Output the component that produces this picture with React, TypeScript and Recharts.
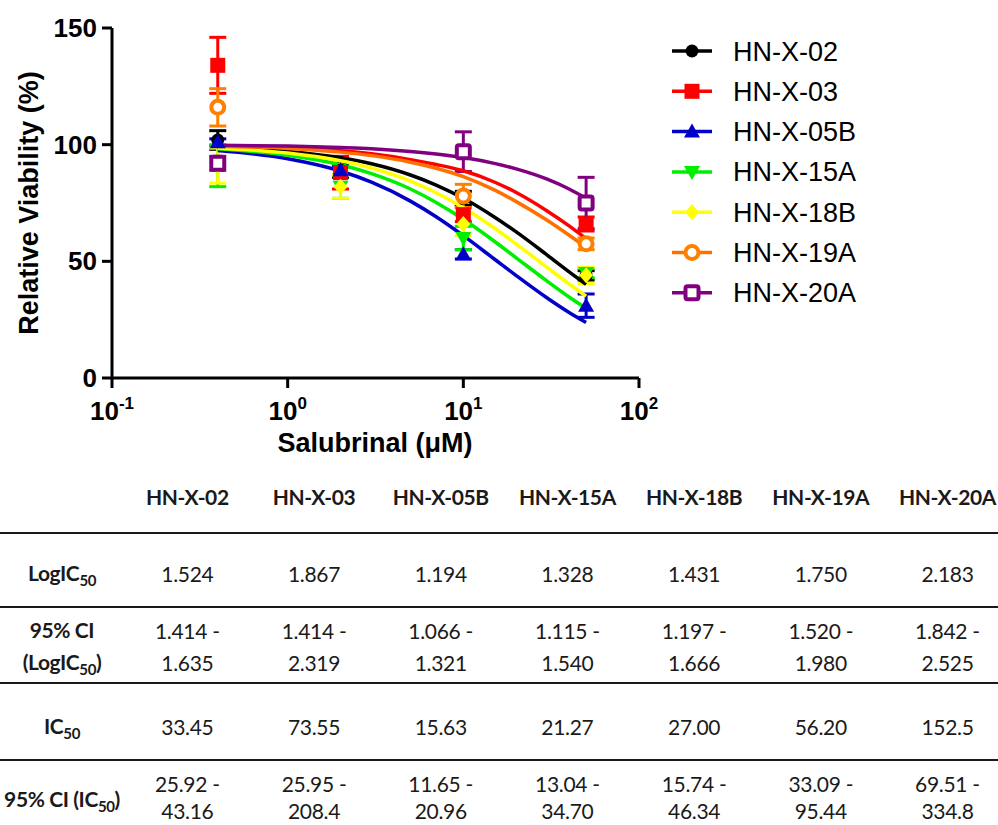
import { ComposedChart, Line, Scatter, ErrorBar, XAxis, YAxis, Legend } from "recharts";

const cellLines = ["HN-X-02", "HN-X-03", "HN-X-05B", "HN-X-15A", "HN-X-18B", "HN-X-19A", "HN-X-20A"];

// measured points (dose in µM, mean viability %, error)
const doses = [0.4, 2, 10, 50];
const dosesNo2 = [0.4, 10, 50];
const mean02 = [102, 89, 77, 44];
const err02 = [4, 3, 3, 2];
const mean03 = [134, 88, 70, 66];
const err03 = [12, 7, 3, 3];
const mean05B = [101, 89, 53, 31];
const err05B = [1.5, 2, 2, 5];
const mean15A = [91, 82, 60, 45];
const err15A = [9, 5, 5, 2];
const mean18B = [91, 82, 66, 44];
const err18B = [7.5, 5, 5, 3.5];
const mean19A = [116, 78, 57.5];
const err19A = [8, 5, 2.5];
const mean20A = [92, 97, 75];
const err20A = [3, 8.5, 11];

// fitted curves
const fitDoses = [0.4, 1, 2, 3, 5, 7, 10, 15, 20, 30, 40, 50];
const fit02 = [98.8, 97.1, 94.4, 91.8, 87.0, 82.7, 77.0, 69.0, 62.6, 52.7, 45.5, 40.1];
const fit03 = [99.5, 98.7, 97.4, 96.1, 93.6, 91.5, 88.8, 84.0, 79.5, 71.6, 65.2, 59.7];
const fit05B = [97.5, 94.0, 88.7, 83.9, 75.8, 69.1, 61.0, 51.0, 43.9, 34.3, 28.1, 23.8];
const fit15A = [98.2, 95.5, 91.4, 87.6, 81.0, 75.2, 68.0, 58.6, 51.5, 41.5, 34.7, 29.8];
const fit18B = [98.5, 96.4, 93.1, 90.0, 84.4, 79.4, 73.0, 64.3, 57.4, 47.4, 40.3, 35.1];
const fit19A = [99.3, 98.4, 96.8, 95.3, 92.5, 89.9, 86.3, 80.6, 75.6, 67.6, 61.2, 56.0];
const fit20A = [99.7, 99.4, 98.8, 98.3, 97.1, 96.0, 94.5, 92.0, 89.6, 85.2, 81.0, 77.0];

const xTicks = [0.1, 1, 10, 100];
const yTicks = [0, 50, 100, 150];

// table values
const logIC50 = ["1.524", "1.867", "1.194", "1.328", "1.431", "1.750", "2.183"];
const ciLogIC50 = [["1.414", "1.635"], ["1.414", "2.319"], ["1.066", "1.321"], ["1.115", "1.540"], ["1.197", "1.666"], ["1.520", "1.980"], ["1.842", "2.525"]];
const ic50 = ["33.45", "73.55", "15.63", "21.27", "27.00", "56.20", "152.5"];
const ciIC50 = [["25.92", "43.16"], ["25.95", "208.4"], ["11.65", "20.96"], ["13.04", "34.70"], ["15.74", "46.34"], ["33.09", "95.44"], ["69.51", "334.8"]];

const styles = [
  { color: "#000000", line: "#000000", marker: "circle" },
  { color: "#ff0000", line: "#ff0000", marker: "square" },
  { color: "#0000c8", line: "#0000c8", marker: "triangle" },
  { color: "#00ee00", line: "#00ee00", marker: "triangleDown" },
  { color: "#ffff00", line: "#ffff00", marker: "diamond" },
  { color: "#ff8000", line: "#ff7000", marker: "openCircle" },
  { color: "#800080", line: "#800080", marker: "openSquare" },
];

const points = [
  [doses, mean02, err02],
  [doses, mean03, err03],
  [doses, mean05B, err05B],
  [doses, mean15A, err15A],
  [doses, mean18B, err18B],
  [dosesNo2, mean19A, err19A],
  [dosesNo2, mean20A, err20A],
] as const;
const fits = [fit02, fit03, fit05B, fit15A, fit18B, fit19A, fit20A];

const Marker = ({ cx, cy, kind, color }: any) => {
  switch (kind) {
    case "circle":
      return <circle cx={cx} cy={cy} r={6.5} fill={color} />;
    case "square":
      return <rect x={cx - 7.5} y={cy - 7.5} width={15} height={15} fill={color} />;
    case "triangle":
      return <path d={`M${cx},${cy - 8} L${cx + 8},${cy + 6} L${cx - 8},${cy + 6} Z`} fill={color} />;
    case "triangleDown":
      return <path d={`M${cx},${cy + 8} L${cx + 8},${cy - 6} L${cx - 8},${cy - 6} Z`} fill={color} />;
    case "diamond":
      return <path d={`M${cx},${cy - 8} L${cx + 7},${cy} L${cx},${cy + 8} L${cx - 7},${cy} Z`} fill={color} />;
    case "openCircle":
      return <circle cx={cx} cy={cy} r={6.5} fill="#fff" stroke={color} strokeWidth={4} />;
    default:
      return <rect x={cx - 6.5} y={cy - 6.5} width={13} height={13} rx={2} fill="#fff" stroke={color} strokeWidth={4} />;
  }
};

const XTick = ({ x, y, payload }: any) => (
  <text x={x} y={y + 30} textAnchor="middle" fontSize={26} fontWeight="bold" fill="#000">
    <tspan>10</tspan>
    <tspan dy={-11} fontSize={17}>{Math.round(Math.log10(payload.value))}</tspan>
  </text>
);

const YTick = ({ x, y, payload }: any) => (
  <text x={x} y={y} dy={9} textAnchor="end" fontSize={26} fontWeight="bold" fill="#000">
    {payload.value}
  </text>
);

const LegendBox = () => (
  <svg width={300} height={290}>
    {cellLines.map((name, i) => {
      const cy = 17 + i * 40.3;
      return (
        <g key={name}>
          <line x1={12} x2={52} y1={cy} y2={cy} stroke={styles[i].line} strokeWidth={3.5} />
          <Marker cx={32} cy={cy} kind={styles[i].marker} color={styles[i].color} />
          <text x={73} y={cy + 9.5} fontSize={27} fill="#000">{name}</text>
        </g>
      );
    })}
  </svg>
);

const Sub = ({ children }: any) => (
  <span style={{ fontSize: 15, position: "relative", top: 5 }}>{children}</span>
);

const rowStyle = (top: number, height: number, pad: number, lh: number, border = true): any => ({
  position: "absolute",
  top,
  left: 0,
  height,
  width: 1011,
  boxSizing: "border-box",
  borderBottom: border ? "2.5px solid #1a1a1a" : "none",
  display: "grid",
  gridTemplateColumns: "124px repeat(7, 126.7px)",
  alignItems: "center",
  lineHeight: lh + "px",
  paddingTop: pad > 0 ? pad : 0,
  paddingBottom: pad < 0 ? -pad : 0,
});

const cell: any = { textAlign: "center", whiteSpace: "nowrap", letterSpacing: -0.3 };
const head: any = { ...cell, fontWeight: "bold", letterSpacing: -0.4 };

const TwoLines = ({ a, b }: any) => (
  <div style={cell}>
    <div style={{ lineHeight: "28px" }}>{a}</div>
    <div style={{ lineHeight: "26px", paddingTop: 0 }}>{b}</div>
  </div>
);

export default function App() {
  return (
    <div style={{ position: "absolute", left: 0, top: 0, width: 998, height: 825, overflow: "hidden", background: "#fff", fontFamily: "'Liberation Sans', Arial, sans-serif" }}>
      <ComposedChart width={998} height={470} margin={{ top: 28, right: 359, bottom: 12, left: 12 }}>
        <XAxis
          dataKey="x"
          type="number"
          scale="log"
          domain={[0.1, 100]}
          ticks={xTicks}
          allowDataOverflow
          stroke="#000"
          strokeWidth={3}
          tickSize={10}
          height={80}
          tick={<XTick />}
          label={{
            content: () => (
              <text x={375} y={452} textAnchor="middle" fontSize={27} fontWeight="bold" fill="#000">
                Salubrinal (μM)
              </text>
            ),
          }}
        />
        <YAxis
          dataKey="y"
          type="number"
          domain={[0, 150]}
          ticks={yTicks}
          allowDataOverflow
          stroke="#000"
          strokeWidth={3}
          tickSize={10}
          tickMargin={5}
          width={100}
          tick={<YTick />}
          label={{
            content: () => (
              <text x={38} y={203} transform="rotate(-90 38 203)" textAnchor="middle" fontSize={27} fontWeight="bold" fill="#000">
                Relative Viability (%)
              </text>
            ),
          }}
        />
        {cellLines.map((name, i) => {
          const [xs, ms, es] = points[i];
          return (
            <Scatter
              key={"p" + name}
              name={name}
              data={xs.map((x, j) => ({ x, y: ms[j], err: es[j] }))}
              dataKey="y"
              isAnimationActive={false}
              shape={(p: any) => <Marker cx={p.cx} cy={p.cy} kind={styles[i].marker} color={styles[i].color} />}
            >
              <ErrorBar dataKey="err" direction="y" width={8.5} strokeWidth={3} stroke={styles[i].color} />
            </Scatter>
          );
        })}
        {cellLines.map((name, i) => (
          <Line
            key={"f" + name}
            data={fitDoses.map((x, j) => ({ x, y: fits[i][j] }))}
            dataKey="y"
            type="monotone"
            stroke={styles[i].line}
            strokeWidth={3.5}
            dot={false}
            legendType="none"
            isAnimationActive={false}
          />
        ))}
        <Legend
          layout="vertical"
          align="center"
          verticalAlign="middle"
          content={() => <LegendBox />}
          wrapperStyle={{ left: 660, top: 34, width: 300, height: 290 }}
        />
      </ComposedChart>

      <div style={{ fontFamily: "Lato, 'Open Sans', sans-serif", fontSize: 21, color: "#1a1a1a" }}>
        <div style={rowStyle(470, 64, -8, 32)}>
          <div />
          {cellLines.map((n) => (
            <div key={n} style={head}>{n}</div>
          ))}
        </div>
        <div style={rowStyle(534, 74, 8, 32)}>
          <div style={head}>LogIC<Sub>50</Sub></div>
          {logIC50.map((v, i) => (
            <div key={i} style={cell}>{v}</div>
          ))}
        </div>
        <div style={rowStyle(608, 76, 4, 32)}>
          <div style={head}>95% CI<br />(LogIC<Sub>50</Sub>)</div>
          {ciLogIC50.map((v, i) => (
            <div key={i} style={cell}>{v[0]} -<br />{v[1]}</div>
          ))}
        </div>
        <div style={rowStyle(684, 77, 10, 32)}>
          <div style={head}>IC<Sub>50</Sub></div>
          {ic50.map((v, i) => (
            <div key={i} style={cell}>{v}</div>
          ))}
        </div>
        <div style={{ ...rowStyle(761, 64, 9, 30, false), alignItems: "start" }}>
          <div style={{ ...head, lineHeight: "30px", paddingTop: 14 }}>95% CI (IC<Sub>50</Sub>)</div>
          {ciIC50.map((v, i) => (
            <TwoLines key={i} a={v[0] + " -"} b={v[1]} />
          ))}
        </div>
      </div>
    </div>
  );
}
